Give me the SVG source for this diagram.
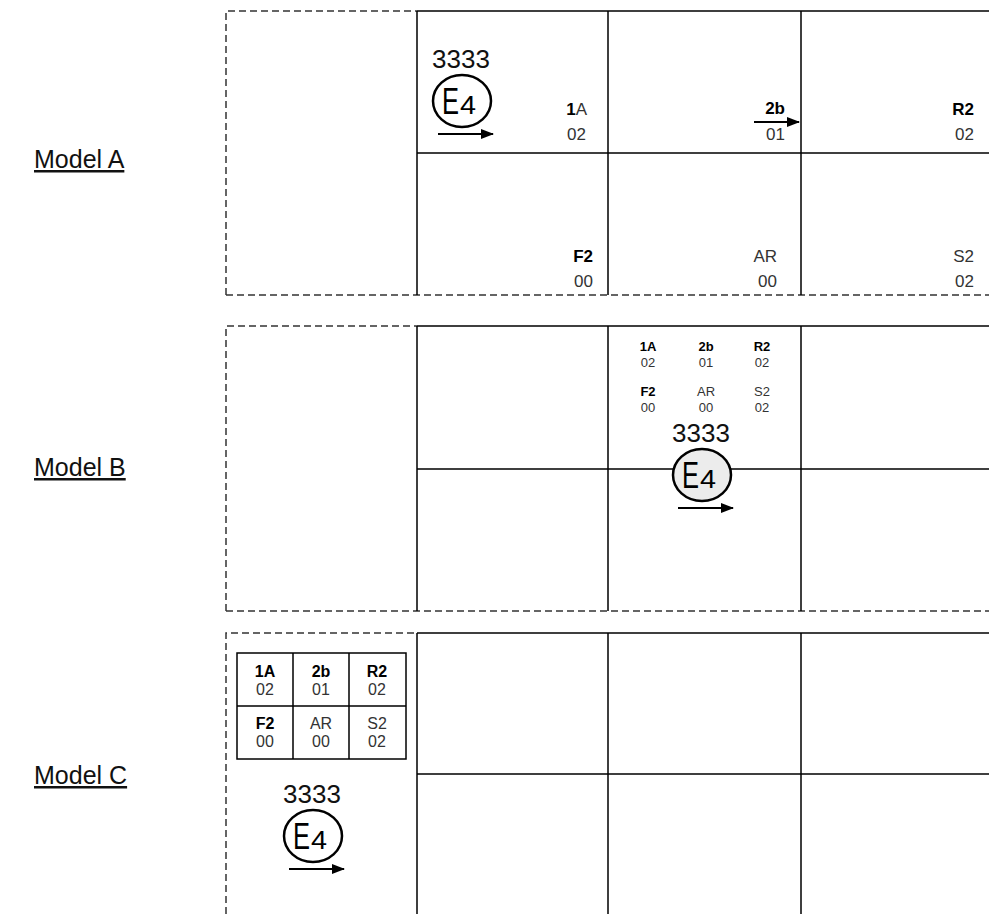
<svg xmlns="http://www.w3.org/2000/svg" width="989" height="914" viewBox="0 0 989 914">
<style>
.bg{fill:#ffffff}
.grid{stroke:#000;stroke-width:1.5;fill:none}
.dash{stroke:#333;stroke-width:1.5;fill:none;stroke-dasharray:7 4}
.lbl{font-family:"Liberation Sans",Arial,sans-serif;font-size:25px;fill:#111;text-decoration:underline}
.t{font-family:"Liberation Sans",Arial,sans-serif;fill:#333}
.b{font-weight:bold;fill:#000}
.big{font-size:17px}
.sm{font-size:13px;text-anchor:middle}
.smc{font-size:16px;text-anchor:middle}
.num{font-family:"Liberation Sans",Arial,sans-serif;font-size:26px;fill:#111}
.ring{stroke:#000;stroke-width:2.5;fill:none}
.arr{stroke:#000;stroke-width:1.8;fill:none}
</style>
<defs>
<marker id="ah" markerWidth="13" markerHeight="10" refX="12" refY="5" orient="auto" markerUnits="userSpaceOnUse">
<path d="M0,0 L13,5 L0,10 Z" fill="#000"/>
</marker>
<g id="mark">
<text class="num" x="0" y="0">3333</text>
<ellipse cx="30" cy="33" rx="29" ry="26" class="ring"/>
<text class="t" x="10" y="46" font-size="36" textLength="17" lengthAdjust="spacingAndGlyphs" style="fill:#000">E</text>
<text class="t" x="28" y="46" font-size="25" textLength="16" lengthAdjust="spacingAndGlyphs" style="fill:#000">4</text>
<line x1="6" y1="66" x2="61" y2="66" class="arr" marker-end="url(#ah)"/>
</g>
</defs>
<rect class="bg" x="0" y="0" width="989" height="914"/>

<g id="connectors">
<path class="dash" d="M226,295 L226,11 L417,11 M226,295 L989,295"/>
<path class="grid" d="M417,11 L989,11 M417,153 L989,153 M417,11 L417,295 M608,11 L608,295 M801,11 L801,295"/>
<path class="dash" d="M226,611 L226,326 L417,326 M226,611 L989,611"/>
<path class="grid" d="M417,326 L989,326 M417,469 L989,469 M417,326 L417,611 M608,326 L608,611 M801,326 L801,611"/>
<path class="dash" d="M226,914 L226,633 L417,633"/>
<path class="grid" d="M417,633 L989,633 M417,774 L989,774 M417,633 L417,914 M608,633 L608,914 M801,633 L801,914"/>
</g>

<g id="labels">
<text class="lbl" x="34" y="168">Model A</text>
<text class="lbl" x="34" y="476">Model B</text>
<text class="lbl" x="34" y="784">Model C</text>
</g>

<g id="modelA">
<use href="#mark" x="432" y="68"/>
<text class="t big" x="587" y="115" text-anchor="end"><tspan class="b">1</tspan>A</text>
<text class="t big" x="586" y="140" text-anchor="end">02</text>
<text class="t big b" x="785" y="114" text-anchor="end">2b</text>
<line x1="754" y1="122" x2="799" y2="122" class="arr" marker-end="url(#ah)"/>
<text class="t big" x="785" y="140" text-anchor="end">01</text>
<text class="t big b" x="974" y="115" text-anchor="end">R2</text>
<text class="t big" x="974" y="140" text-anchor="end">02</text>
<text class="t big b" x="593" y="262" text-anchor="end">F2</text>
<text class="t big" x="593" y="287" text-anchor="end">00</text>
<text class="t big" x="777" y="262" text-anchor="end">AR</text>
<text class="t big" x="777" y="287" text-anchor="end">00</text>
<text class="t big" x="974" y="262" text-anchor="end">S2</text>
<text class="t big" x="974" y="287" text-anchor="end">02</text>
</g>

<g id="modelB">
<text class="t sm b" x="648" y="351">1A</text>
<text class="t sm" x="648" y="367">02</text>
<text class="t sm b" x="706" y="351">2b</text>
<text class="t sm" x="706" y="367">01</text>
<text class="t sm b" x="762" y="351">R2</text>
<text class="t sm" x="762" y="367">02</text>
<text class="t sm b" x="648" y="396">F2</text>
<text class="t sm" x="648" y="412">00</text>
<text class="t sm" x="706" y="396">AR</text>
<text class="t sm" x="706" y="412">00</text>
<text class="t sm" x="762" y="396">S2</text>
<text class="t sm" x="762" y="412">02</text>
<ellipse cx="702" cy="475" rx="29" ry="26" fill="#ececec"/>
<use href="#mark" x="672" y="442"/>
</g>

<g id="modelC">
<rect x="237" y="653" width="169" height="106" class="grid"/>
<path class="grid" d="M237,706 L406,706 M293,653 L293,759 M349,653 L349,759"/>
<text class="t smc b" x="265" y="677">1A</text>
<text class="t smc" x="265" y="695">02</text>
<text class="t smc b" x="321" y="677">2b</text>
<text class="t smc" x="321" y="695">01</text>
<text class="t smc b" x="377" y="677">R2</text>
<text class="t smc" x="377" y="695">02</text>
<text class="t smc b" x="265" y="729">F2</text>
<text class="t smc" x="265" y="747">00</text>
<text class="t smc" x="321" y="729">AR</text>
<text class="t smc" x="321" y="747">00</text>
<text class="t smc" x="377" y="729">S2</text>
<text class="t smc" x="377" y="747">02</text>
<use href="#mark" x="283" y="803"/>
</g>
</svg>
